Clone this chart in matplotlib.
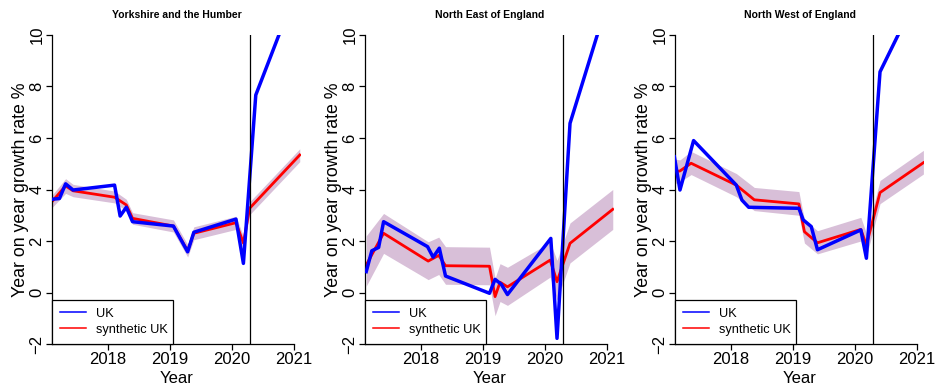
import matplotlib
matplotlib.use("Agg")
import matplotlib.pyplot as plt
from matplotlib.lines import Line2D

plt.rcParams['font.family'] = ['Liberation Sans', 'DejaVu Sans']

# Yorkshire and the Humber
yh_x_uk = [2017.10, 2017.22, 2017.32, 2017.44, 2018.11, 2018.20, 2018.30, 2018.40,
           2019.06, 2019.29, 2019.39, 2020.07, 2020.19, 2020.39, 2021.10]
yh_uk = [3.62, 3.65, 4.22, 3.98, 4.17, 2.97, 3.31, 2.75,
         2.58, 1.58, 2.34, 2.85, 1.13, 7.67, 12.10]
yh_x_syn = [2017.10, 2017.32, 2017.44, 2018.11, 2018.30, 2018.40, 2019.06,
            2019.29, 2019.39, 2020.07, 2020.19, 2020.29, 2021.10]
yh_syn = [3.53, 4.14, 3.95, 3.70, 3.40, 2.88, 2.58, 1.62, 2.30, 2.71, 1.92, 3.27, 5.34]
yh_lo = [3.30, 3.85, 3.72, 3.48, 3.18, 2.65, 2.35, 1.38, 2.05, 2.45, 1.65, 3.02, 5.08]
yh_hi = [3.78, 4.42, 4.20, 3.94, 3.62, 3.10, 2.82, 1.86, 2.55, 2.96, 2.18, 3.52, 5.58]

# North East of England
ne_x_uk = [2017.12, 2017.21, 2017.32, 2017.40, 2018.11, 2018.20, 2018.30, 2018.40,
           2019.11, 2019.20, 2019.30, 2019.40, 2020.10, 2020.20, 2020.41, 2021.10]
ne_uk = [0.81, 1.62, 1.75, 2.75, 1.78, 1.37, 1.72, 0.64,
         -0.03, 0.51, 0.32, -0.08, 2.10, -1.78, 6.57, 11.95]
ne_x_syn = [2017.12, 2017.40, 2018.12, 2018.29, 2018.40, 2019.11, 2019.20,
            2019.28, 2019.40, 2020.09, 2020.20, 2020.41, 2021.10]
ne_syn = [1.07, 2.30, 1.22, 1.44, 1.04, 1.02, -0.16, 0.40, 0.22, 1.26, 0.42, 1.91, 3.23]
ne_lo = [0.25, 1.52, 0.50, 0.70, 0.32, 0.30, -0.90, -0.35, -0.50, 0.60, -0.30, 1.15, 2.45]
ne_hi = [2.20, 3.07, 1.97, 2.15, 1.78, 1.76, 0.55, 1.12, 0.98, 1.95, 1.25, 2.70, 4.00]

# North West of England
nw_x_uk = [2017.09, 2017.18, 2017.40, 2018.09, 2018.18, 2018.29, 2019.10,
           2019.17, 2019.30, 2019.40, 2020.10, 2020.19, 2020.41, 2021.10]
nw_uk = [5.27, 3.98, 5.90, 4.17, 3.59, 3.31, 3.27,
         2.82, 2.56, 1.66, 2.43, 1.33, 8.57, 11.95]
nw_x_syn = [2017.09, 2017.18, 2017.36, 2018.09, 2018.38, 2019.10, 2019.19,
            2019.40, 2020.10, 2020.19, 2020.41, 2021.11]
nw_syn = [4.69, 4.72, 5.02, 4.17, 3.60, 3.44, 2.36, 1.93, 2.45, 1.84, 3.88, 5.04]
nw_lo = [4.22, 4.30, 4.58, 3.72, 3.18, 3.00, 1.92, 1.50, 2.00, 1.40, 3.45, 4.60]
nw_hi = [5.18, 5.15, 5.48, 4.62, 4.08, 3.92, 2.82, 2.40, 2.92, 2.30, 4.35, 5.52]

titles = ['Yorkshire and the Humber', 'North East of England', 'North West of England']
panels = [
    (yh_x_uk, yh_uk, yh_x_syn, yh_syn, yh_lo, yh_hi),
    (ne_x_uk, ne_uk, ne_x_syn, ne_syn, ne_lo, ne_hi),
    (nw_x_uk, nw_uk, nw_x_syn, nw_syn, nw_lo, nw_hi),
]
year_ticks = [2018, 2019, 2020, 2021]
rate_ticks = [-2, 0, 2, 4, 6, 8, 10]
intervention = 2020.29

W, H = 936, 385
fig = plt.figure(figsize=(W / 100, H / 100), dpi=100)
lefts = [52, 365, 675]

for left, title, (xu, yu, xs, ys, lo, hi) in zip(lefts, titles, panels):
    ax = fig.add_axes([left / W, 1 - 344 / H, 249 / W, 309 / H])
    ax.fill_between(xs, lo, hi, color='#D8BFD8', lw=0, zorder=1)
    ax.plot(xs, ys, color='red', lw=2.0, zorder=2)
    ax.plot(xu, yu, color='blue', lw=2.5, zorder=3)
    ax.axvline(intervention, color='black', lw=0.9, zorder=4)

    ax.set_xlim(2017.1, 2021.12)
    ax.set_ylim(-2, 10)
    for s in ['top', 'right']:
        ax.spines[s].set_visible(False)
    ax.spines['bottom'].set_bounds(2017.1, 2021)
    ax.spines['left'].set_bounds(-2, 10)
    ax.spines['bottom'].set_linewidth(0.9)
    ax.spines['left'].set_linewidth(0.9)

    ax.set_xticks(year_ticks)
    ax.set_yticks(rate_ticks)
    ax.tick_params(length=4, width=0.9, labelsize=12, pad=1.5)
    ax.tick_params(axis='y', labelrotation=90)
    for lab in ax.get_yticklabels():
        lab.set_va('center')

    ax.set_xlabel('Year', fontsize=12, labelpad=3)
    ax.set_ylabel('Year on year growth rate %', fontsize=12.8, labelpad=0.5)
    ax.set_title(title, fontsize=7.5, fontweight='bold', pad=12)

    handles = [Line2D([], [], color='blue', lw=1.1),
               Line2D([], [], color='red', lw=1.1)]
    leg = ax.legend(handles, ['UK', 'synthetic UK'], loc='lower left',
                    bbox_to_anchor=(0, 0, 121 / 249, 0.15), mode='expand',
                    borderaxespad=0, fontsize=9.2, fancybox=False,
                    framealpha=1, edgecolor='black', borderpad=0.65,
                    labelspacing=0.3, handlelength=2.0, handletextpad=0.8)
    leg.get_frame().set_linewidth(0.9)
    leg.set_zorder(5)

fig.savefig('out.png', dpi=100)
